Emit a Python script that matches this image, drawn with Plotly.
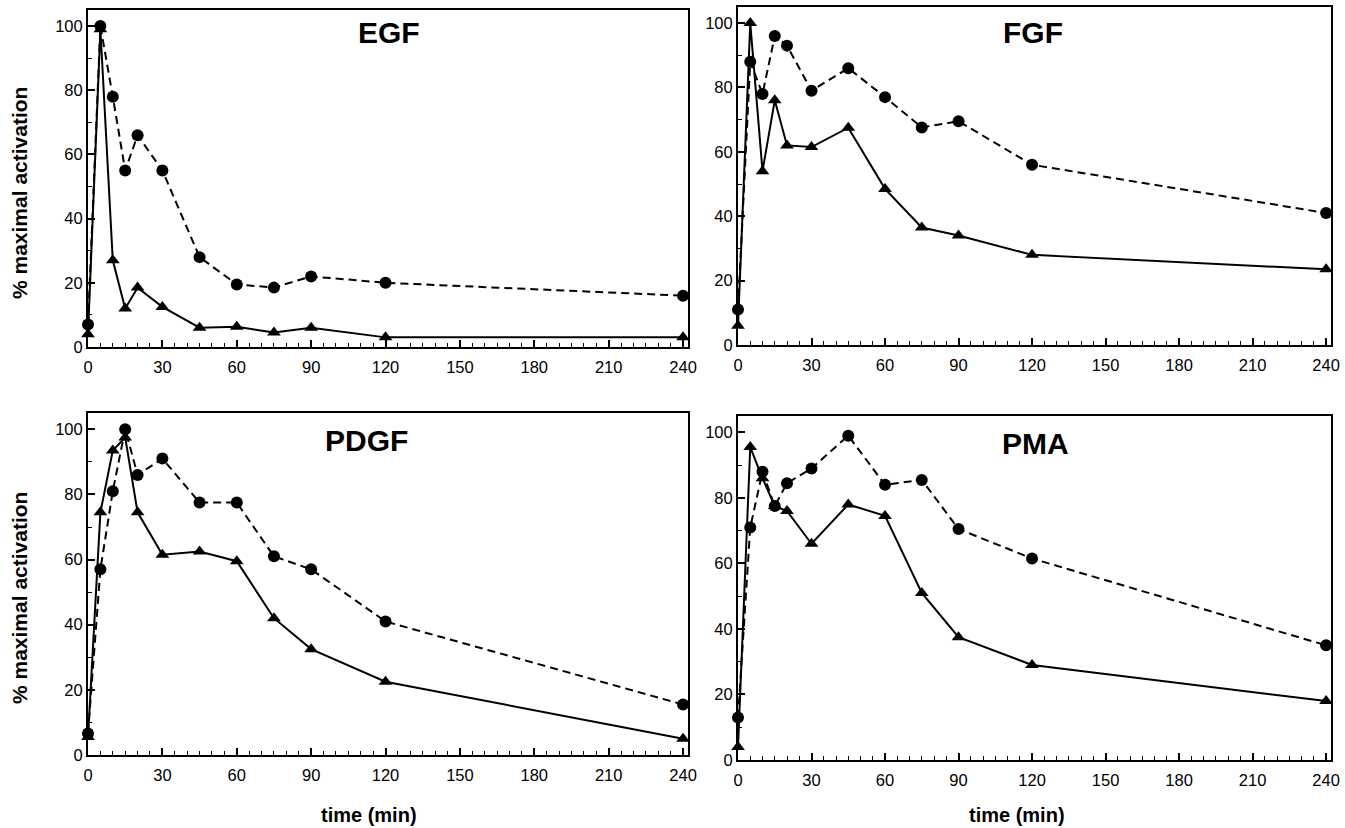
import plotly.graph_objects as go

times = [0, 5, 10, 15, 20, 30, 45, 60, 75, 90, 120, 240]

egf_circle = [7, 100, 78, 55, 66, 55, 28, 19.5, 18.5, 22, 20, 16]
egf_triangle = [4, 99, 27, 12, 18.5, 12.5, 6, 6.3, 4.5, 6, 3, 3]

fgf_circle = [11, 88, 78, 96, 93, 79, 86, 77, 67.6, 69.5, 56, 41]
fgf_triangle = [6, 100, 54, 76, 62, 61.5, 67.5, 48.5, 36.5, 34, 28, 23.5]

pdgf_circle = [6.6, 57, 81, 100, 86, 91, 77.5, 77.5, 61, 57, 41, 15.5]
pdgf_triangle = [5.5, 74.5, 93.5, 97.5, 74.5, 61.5, 62.5, 59.5, 42, 32.5, 22.5, 5]

pma_circle = [13, 71, 88, 77.5, 84.5, 89, 99, 84, 85.5, 70.5, 61.5, 35]
pma_triangle = [4, 95.5, 86, 77.5, 76, 66, 78, 74.5, 51, 37.5, 29, 18]

panel_names = ["EGF", "FGF", "PDGF", "PMA"]
x_ticks = [0, 30, 60, 90, 120, 150, 180, 210, 240]
y_ticks = [0, 20, 40, 60, 80, 100]

W, H = 1345, 828
# pixel boxes (left, top, right, bottom)
boxes = [(88, 10, 688, 347), (738, 7, 1331, 345), (88, 413, 688, 755), (738, 416, 1331, 760)]
series = [(egf_circle, egf_triangle), (fgf_circle, fgf_triangle),
          (pdgf_circle, pdgf_triangle), (pma_circle, pma_triangle)]
title_pos = [(389, 33), (1033, 33), (366, 440), (1035, 443)]

fig = go.Figure()
layout = {}
font_family = "Liberation Sans, Arial, Helvetica, sans-serif"
for i, ((l, t, r, b), (circ, tri)) in enumerate(zip(boxes, series)):
    n = "" if i == 0 else str(i + 1)
    xa = "x" + n
    ya = "y" + n
    fig.add_trace(go.Scatter(x=times, y=circ, mode="lines+markers", xaxis=xa, yaxis=ya,
                             line=dict(color="black", width=2, dash="8px,5px"),
                             marker=dict(symbol="circle", size=12, color="black"),
                             cliponaxis=False, showlegend=False))
    fig.add_trace(go.Scatter(x=times, y=tri, mode="lines+markers", xaxis=xa, yaxis=ya,
                             line=dict(color="black", width=2),
                             marker=dict(symbol="triangle-up", size=12, color="black"),
                             cliponaxis=False, showlegend=False))
    common = dict(showline=True, linecolor="black", linewidth=2, mirror=True,
                  ticks="inside", ticklen=7, tickwidth=1.5, tickcolor="black",
                  showgrid=False, zeroline=False, automargin=False,
                  tickfont=dict(family=font_family, size=16.5, color="black"))
    layout["xaxis" + n] = dict(domain=[l / W, r / W], anchor=ya, range=[0, 242],
                               tickvals=x_ticks, ticklabelstandoff=4,
                               minor=dict(dtick=5, tick0=0, ticks="inside", ticklen=4,
                                          tickcolor="black", tickwidth=1.2),
                               **common)
    layout["yaxis" + n] = dict(domain=[1 - b / H, 1 - t / H], anchor=xa, range=[0, 105],
                               tickvals=y_ticks, ticklabelstandoff=0,
                               minor=dict(dtick=10, tick0=0, ticks="inside", ticklen=4,
                                          tickcolor="black", tickwidth=1.2),
                               **common)

annotations = []
for name, (px, py) in zip(panel_names, title_pos):
    annotations.append(dict(text="<b>" + name + "</b>", x=px / W, y=1 - py / H,
                            xref="paper", yref="paper", showarrow=False,
                            xanchor="center", yanchor="middle",
                            font=dict(family=font_family, size=30, color="black")))
for py in [193, 598]:
    annotations.append(dict(text="<b>% maximal activation</b>", x=19 / W, y=1 - py / H,
                            xref="paper", yref="paper", showarrow=False, textangle=-90,
                            xanchor="center", yanchor="middle",
                            font=dict(family=font_family, size=21, color="black")))
for px in [369, 1017]:
    annotations.append(dict(text="<b>time (min)</b>", x=px / W, y=1 - 815 / H,
                            xref="paper", yref="paper", showarrow=False,
                            xanchor="center", yanchor="middle",
                            font=dict(family=font_family, size=20, color="black")))

fig.update_layout(width=W, height=H, margin=dict(l=0, r=0, t=0, b=0),
                  paper_bgcolor="white", plot_bgcolor="white",
                  annotations=annotations, **layout)
fig.write_html("out.html", config={"displayModeBar": False},
               post_script="document.body.style.margin='0';document.body.style.padding='0';")
